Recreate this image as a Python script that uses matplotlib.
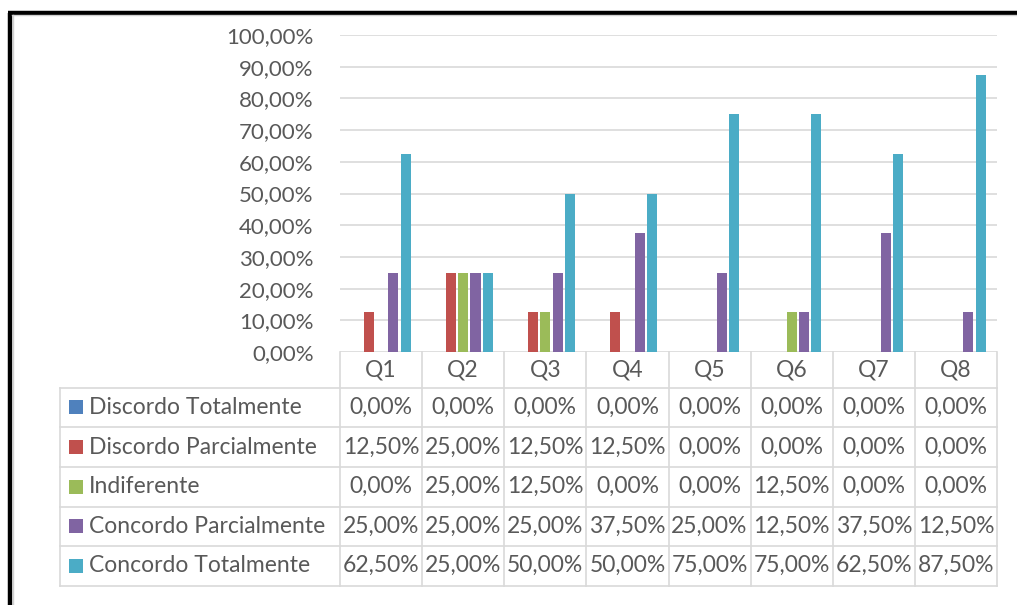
import matplotlib
matplotlib.use("Agg")
import matplotlib.pyplot as plt
from matplotlib.patches import Rectangle
import numpy as np

plt.rcParams['font.family'] = ['Lato', 'DejaVu Sans']

# --- data -------------------------------------------------------------
categories = ["Q1", "Q2", "Q3", "Q4", "Q5", "Q6", "Q7", "Q8"]
series_names = ["Discordo Totalmente", "Discordo Parcialmente", "Indiferente",
                "Concordo Parcialmente", "Concordo Totalmente"]
discordo_totalmente = [0.0, 0.0, 0.0, 0.0, 0.0, 0.0, 0.0, 0.0]
discordo_parcialmente = [12.5, 25.0, 12.5, 12.5, 0.0, 0.0, 0.0, 0.0]
indiferente = [0.0, 25.0, 12.5, 0.0, 0.0, 12.5, 0.0, 0.0]
concordo_parcialmente = [25.0, 25.0, 25.0, 37.5, 25.0, 12.5, 37.5, 12.5]
concordo_totalmente = [62.5, 25.0, 50.0, 50.0, 75.0, 75.0, 62.5, 87.5]
y_ticks = [0, 10, 20, 30, 40, 50, 60, 70, 80, 90, 100]

series_values = [discordo_totalmente, discordo_parcialmente, indiferente,
                 concordo_parcialmente, concordo_totalmente]
colors = ["#4F81BD", "#C0504D", "#9BBB59", "#8064A2", "#4BACC6"]

TEXT = "#595959"
GRID = "#D9D9D9"
FS_TICK = 16
FS_TABLE = 16.5


def pct(v):
    return f"{v:.2f}".replace(".", ",") + "%"


# --- layout (pixels) ---------------------------------------------------
W, H = 1017, 605
plot_left, plot_right = 340, 997
plot_top, plot_bottom = 35, 352
table_left = 60
row_edges = [352, 387.5, 427, 467, 506.5, 546, 585.5]

fig = plt.figure(figsize=(W / 100, H / 100), dpi=100)
fig.patch.set_facecolor("white")

ax = fig.add_axes([plot_left / W, 1 - plot_bottom / H,
                   (plot_right - plot_left) / W, (plot_bottom - plot_top) / H])
ax.set_xlim(-0.5, len(categories) - 0.5)
ax.set_ylim(0, 100)

x = np.arange(len(categories))
pitch, width = 0.15, 0.122
n = len(series_values)
for i, (vals, col) in enumerate(zip(series_values, colors)):
    offs = (i - (n - 1) / 2) * pitch
    ax.bar(x + offs, vals, width=width, color=col, zorder=3)

ax.set_yticks(y_ticks)
ax.set_yticklabels([pct(v) for v in y_ticks], fontsize=FS_TICK, color=TEXT)
ax.tick_params(axis="y", length=0, pad=19)
ax.set_xticks([])
ax.grid(axis="y", color=GRID, linewidth=1.2, zorder=0)
for s in ax.spines.values():
    s.set_visible(False)

# --- data table underneath the plot ------------------------------------
ov = fig.add_axes([0, 0, 1, 1], zorder=5)
ov.set_xlim(0, W)
ov.set_ylim(H, 0)
ov.axis("off")

ncol = len(categories)
col_edges = [plot_left + k * (plot_right - plot_left) / ncol for k in range(ncol + 1)]

# horizontal rules
for k, yv in enumerate(row_edges):
    if k == 0:
        continue
    ov.plot([table_left, plot_right], [yv, yv], color=GRID, lw=1.2)
# vertical rules
for xv in col_edges:
    ov.plot([xv, xv], [row_edges[0], row_edges[-1]], color=GRID, lw=1.2)
ov.plot([table_left, table_left], [row_edges[1], row_edges[-1]], color=GRID, lw=1.2)

# header
for c, name in enumerate(categories):
    xc = (col_edges[c] + col_edges[c + 1]) / 2
    yc = (row_edges[0] + row_edges[1]) / 2
    ov.text(xc, yc, name, ha="center", va="center", fontsize=FS_TABLE, color=TEXT)

# body rows
for r, (name, vals, col) in enumerate(zip(series_names, series_values, colors)):
    yc = (row_edges[r + 1] + row_edges[r + 2]) / 2
    ov.add_patch(Rectangle((69, yc - 7), 14, 14, facecolor=col, edgecolor="none"))
    ov.text(89, yc, name, ha="left", va="center", fontsize=FS_TABLE, color=TEXT)
    for c, v in enumerate(vals):
        xc = (col_edges[c] + col_edges[c + 1]) / 2
        ov.text(xc, yc, pct(v), ha="center", va="center", fontsize=FS_TABLE, color=TEXT)

# outer frame
ov.plot([10, 10], [12.5, H + 5], color="black", lw=3.2, solid_capstyle="butt")
ov.plot([8.4, W + 5], [12.5, 12.5], color="black", lw=3.2, solid_capstyle="butt")
ov.plot([12.6, 12.6], [14.5, H + 5], color="#D0D0D0", lw=1)
ov.plot([12, W + 5], [15, 15], color="#D0D0D0", lw=1)

fig.savefig("out.png", dpi=100, facecolor="white")
